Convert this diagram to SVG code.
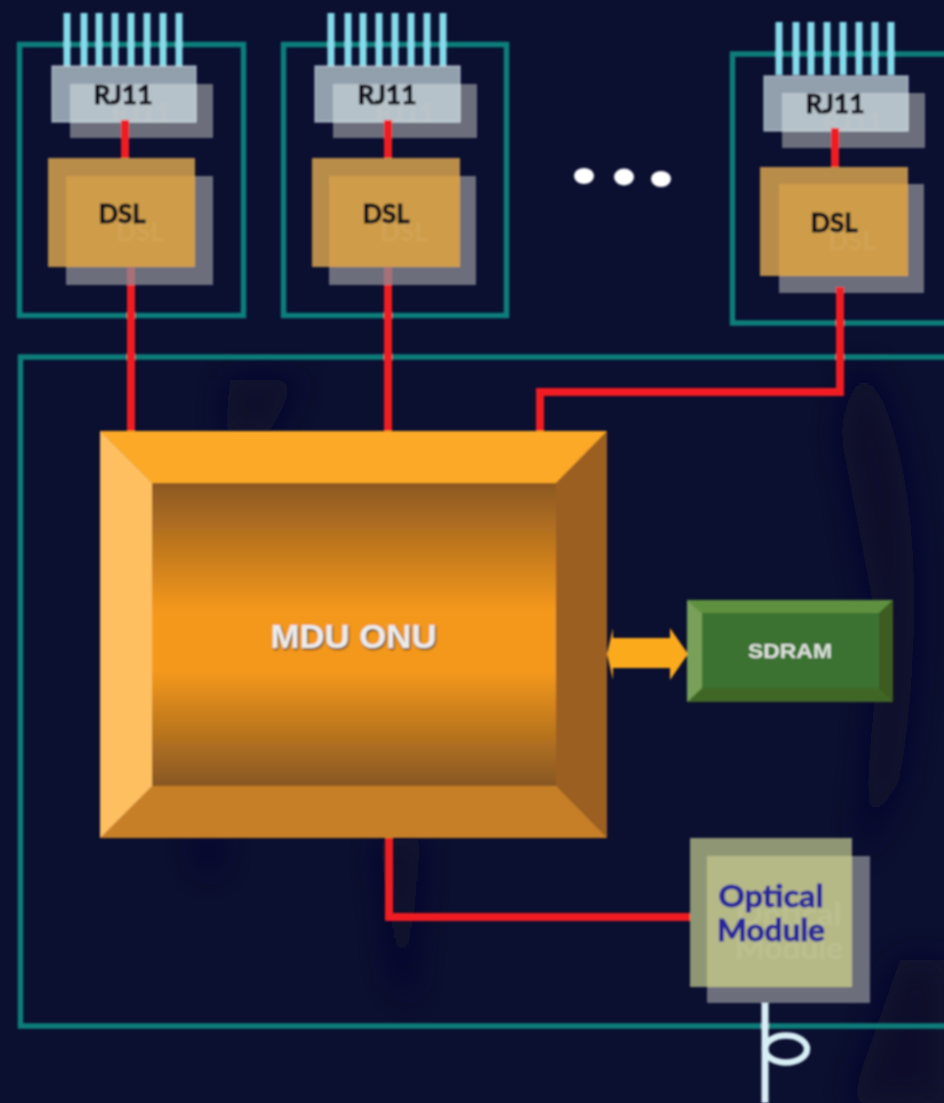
<svg xmlns="http://www.w3.org/2000/svg" xmlns:xlink="http://www.w3.org/1999/xlink" width="944" height="1103" viewBox="0 0 944 1103">
<defs>
<style>
.frame{fill:none;stroke:#0f7f7a;stroke-width:5.500}
.pin{stroke:#84dbe9;stroke-width:7;fill:none}
.wire{fill:none;stroke:#f01c24;stroke-width:8}
.dim{fill:none;stroke:#a87078;stroke-width:8}
.shadow{fill:#6c6e7c}
.rj{fill:#e0f2f6;fill-opacity:.64;stroke:#e6f8fb;stroke-opacity:.5;stroke-width:1.500}
.dsl{fill:#b88c48}
.dsl2{fill:#cf9d48}
.opt{fill:#8f9673}
.opt2{fill:#b5b986}
text{font-family:"Lato","Liberation Sans",sans-serif;font-weight:700;text-anchor:middle}
.lab{fill:#10101a;stroke:#10101a;stroke-width:1;font-size:27px}
.ghost{fill:#e6d8b8;fill-opacity:.12;font-size:27px}
.optlab{fill:#2a289c;stroke:#2a289c;stroke-width:.9;font-size:31px}
.optghost{fill:#d8dcc0;fill-opacity:.2;font-size:31px}
</style>
<linearGradient id="inner" x1="0" y1="0" x2="0" y2="1">
<stop offset="0" stop-color="#8c5822"/><stop offset=".42" stop-color="#f4981c"/><stop offset=".62" stop-color="#f4981c"/><stop offset="1" stop-color="#875722"/>
</linearGradient>
<filter id="soft" x="-2%" y="-2%" width="104%" height="104%"><feGaussianBlur stdDeviation=".8"/></filter>
<filter id="plume" x="-50%" y="-50%" width="200%" height="200%"><feGaussianBlur stdDeviation="16"/></filter>
<filter id="ds" x="-10%" y="-30%" width="120%" height="160%"><feDropShadow dx="1" dy="1.500" stdDeviation=".8" flood-color="#4a3a20"/></filter>
<g id="pins"><path class="pin" d="M67 13V66M84 13V66M99 13V66M115 13V66M131 13V66M147 13V66M163 13V66M179 13V66"/></g>
</defs>
<rect width="944" height="1103" fill="#0b0f30"/>
<g filter="url(#plume)" fill="#0d0f29">
<path d="M860 360C920 440 925 620 900 780L860 860 880 640 840 430Z"/>
<path d="M230 380H300L270 430H225Z"/>
<path d="M380 840H420L410 1000 395 980Z"/>
<path d="M190 838H225L210 880Z"/>
<path d="M900 960H944V1103H850Z"/>
</g>
<g filter="url(#soft)">
<g id="card1">
<rect class="frame" x="19.500" y="44.500" width="224" height="271"/>
<use xlink:href="#pins"/>
<rect class="shadow" x="70" y="84" width="143" height="54"/>
<rect class="rj" x="52" y="66" width="144" height="56"/>
<text class="lab" x="123" y="104" textLength="59" lengthAdjust="spacingAndGlyphs">RJ11</text>
<text class="ghost" x="141" y="122" textLength="59" lengthAdjust="spacingAndGlyphs">RJ11</text>
<rect class="shadow" x="66" y="176" width="147" height="109"/>
<rect class="dsl" x="48" y="158" width="147" height="109"/>
<rect class="dsl2" x="66" y="176" width="129" height="91"/>
<text class="lab" x="122" y="223" textLength="47" lengthAdjust="spacingAndGlyphs">DSL</text>
<text class="ghost" x="140" y="241" textLength="47" lengthAdjust="spacingAndGlyphs">DSL</text>
</g>
<g id="card2">
<rect class="frame" x="283.500" y="44.500" width="223" height="271"/>
<use xlink:href="#pins" x="264"/>
<rect class="shadow" x="333" y="84" width="144" height="54"/>
<rect class="rj" x="315" y="66" width="145" height="56"/>
<text class="lab" x="387" y="104" textLength="59" lengthAdjust="spacingAndGlyphs">RJ11</text>
<text class="ghost" x="405" y="122" textLength="59" lengthAdjust="spacingAndGlyphs">RJ11</text>
<rect class="shadow" x="329" y="176" width="147" height="109"/>
<rect class="dsl" x="312" y="158" width="148" height="109"/>
<rect class="dsl2" x="329" y="176" width="131" height="91"/>
<text class="lab" x="386" y="223" textLength="47" lengthAdjust="spacingAndGlyphs">DSL</text>
<text class="ghost" x="404" y="241" textLength="47" lengthAdjust="spacingAndGlyphs">DSL</text>
</g>
<g id="card3">
<path class="frame" d="M950 54H732.500V323H950"/>
<use xlink:href="#pins" x="712" y="9"/>
<rect class="shadow" x="782" y="93" width="143" height="55"/>
<rect class="rj" x="764" y="76" width="144" height="55"/>
<text class="lab" x="835" y="113" textLength="59" lengthAdjust="spacingAndGlyphs">RJ11</text>
<text class="ghost" x="853" y="131" textLength="59" lengthAdjust="spacingAndGlyphs">RJ11</text>
<rect class="shadow" x="779" y="184" width="145" height="109"/>
<rect class="dsl" x="760" y="167" width="148" height="109"/>
<rect class="dsl2" x="779" y="184" width="129" height="92"/>
<text class="lab" x="834" y="232" textLength="47" lengthAdjust="spacingAndGlyphs">DSL</text>
<text class="ghost" x="852" y="250" textLength="47" lengthAdjust="spacingAndGlyphs">DSL</text>
</g>
<g id="dots" fill="#fff">
<ellipse cx="584" cy="176" rx="10" ry="8"/>
<ellipse cx="624" cy="177" rx="10" ry="8.500"/>
<ellipse cx="661" cy="179" rx="10" ry="8"/>
</g>
<g id="onu-frame"><path class="frame" d="M950 357H20.500V1026H950"/></g>
<g id="connectors">
<path class="wire" d="M125 120V158"/>
<path class="dim" d="M131 267V285"/>
<path class="wire" d="M131 285V432"/>
<path class="wire" d="M388 120V158"/>
<path class="dim" d="M388 267V285"/>
<path class="wire" d="M388 285V432"/>
<path class="wire" d="M835 128V167"/>
<path class="wire" d="M840 287V392H540V432"/>
<path class="wire" d="M389 836V917H690"/>
</g>
<g id="mdu-onu">
<rect x="100" y="431" width="507" height="407" fill="#c67f28"/>
<path d="M100 431H607L556 483H152Z" fill="#fba928"/>
<path d="M100 431L152 483V786L100 838Z" fill="#fdbf60"/>
<path d="M607 431L556 483V786L607 838Z" fill="#9b5f22"/>
<rect x="152" y="483" width="404" height="303" fill="url(#inner)"/>
<text x="353.500" y="648" font-size="33" fill="#ececec" filter="url(#ds)" textLength="166" lengthAdjust="spacingAndGlyphs" style="font-family:'Liberation Sans',sans-serif">MDU ONU</text>
</g>
<g id="bus">
<path d="M607 654L613 628V638H670V628L688 654L670 680V668H613V680Z" fill="#fbaa1e"/>
</g>
<g id="sdram">
<rect x="687" y="600" width="206" height="102" fill="#3f6628"/>
<path d="M687 600H893L879 613H702Z" fill="#5f9040"/>
<path d="M687 600L702 613V688L687 702Z" fill="#78a058"/>
<path d="M893 600L879 613V688L893 702Z" fill="#3c5c20"/>
<rect x="702" y="613" width="177" height="75" fill="#3a7232"/>
<text x="790" y="658" font-size="21" fill="#dfe3dd" textLength="84" lengthAdjust="spacingAndGlyphs" style="font-family:'Liberation Sans',sans-serif">SDRAM</text>
</g>
<g id="fiber" fill="none" stroke="#d8eef5">
<path d="M765 1002V1103" stroke-width="7"/>
<ellipse cx="786" cy="1049" rx="21" ry="13.500" stroke-width="6.500"/>
</g>
<g id="optical-module">
<rect class="shadow" x="707" y="856" width="163" height="147"/>
<rect class="opt" x="690" y="838" width="162" height="149"/>
<rect class="opt2" x="707" y="856" width="145" height="131"/>
<text class="optghost" x="789" y="925" textLength="105" lengthAdjust="spacingAndGlyphs">Optical</text>
<text class="optghost" x="789" y="959" textLength="108" lengthAdjust="spacingAndGlyphs">Module</text>
<text class="optlab" x="771" y="907" textLength="105" lengthAdjust="spacingAndGlyphs">Optical</text>
<text class="optlab" x="771" y="941" textLength="108" lengthAdjust="spacingAndGlyphs">Module</text>
</g>
</g>
</svg>
